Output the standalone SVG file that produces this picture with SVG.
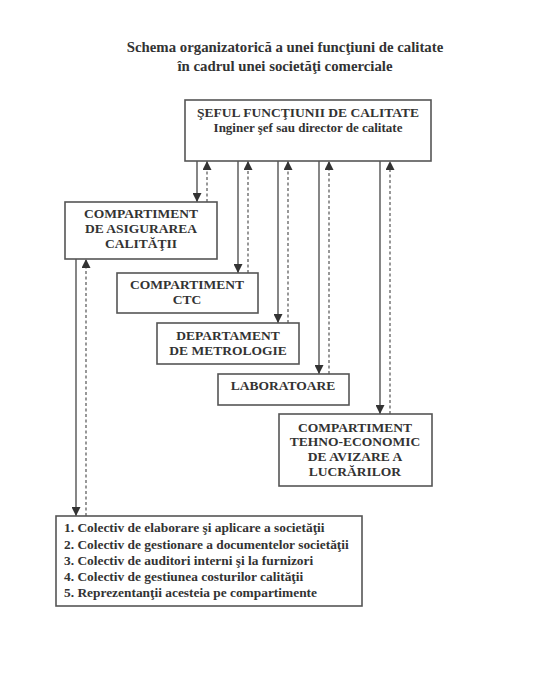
<svg xmlns="http://www.w3.org/2000/svg" width="537" height="677" viewBox="0 0 537 677">
<defs>
<marker id="ah" viewBox="0 0 10 10" refX="10" refY="5" markerWidth="9" markerHeight="9" markerUnits="userSpaceOnUse" orient="auto"><path d="M0,0 L10,5 L0,10 Z" fill="#333"/></marker>
</defs>
<style>
.box{fill:#fff;stroke:#555;stroke-width:1.6}
.t{font-family:"Liberation Serif",serif;font-weight:bold;fill:#333;text-anchor:middle}
.l{font-family:"Liberation Serif",serif;font-weight:bold;fill:#333;font-size:13.4px}
.s{stroke:#444;stroke-width:1.3;fill:none;marker-end:url(#ah)}
.d{stroke:#444;stroke-width:1.1;fill:none;stroke-dasharray:3,2.5;marker-end:url(#ah)}
</style>
<rect width="537" height="677" fill="#fff"/>
<g id="title">
<text class="t" x="285" y="52" font-size="14.8">Schema organizatorică a unei funcţiuni de calitate</text>
<text class="t" x="285" y="71" font-size="14.8">în cadrul unei societăţi comerciale</text>
</g>
<g id="connectors">
<line class="s" x1="197" y1="161" x2="197" y2="202"/>
<line class="d" x1="207" y1="202" x2="207" y2="161"/>
<line class="s" x1="238" y1="161" x2="238" y2="273"/>
<line class="d" x1="248" y1="273" x2="248" y2="161"/>
<line class="s" x1="278" y1="161" x2="278" y2="323"/>
<line class="d" x1="288" y1="323" x2="288" y2="161"/>
<line class="s" x1="319" y1="161" x2="319" y2="374"/>
<line class="d" x1="329" y1="374" x2="329" y2="161"/>
<line class="s" x1="380" y1="161" x2="380" y2="414"/>
<line class="d" x1="390" y1="414" x2="390" y2="161"/>
<line class="s" x1="76" y1="259" x2="76" y2="516"/>
<line class="d" x1="86" y1="516" x2="86" y2="259"/>
</g>
<g id="sef">
<rect class="box" x="185" y="100" width="246" height="61"/>
<text class="t" x="308" y="117" font-size="13.5">ŞEFUL FUNCŢIUNII DE CALITATE</text>
<text class="t" x="308" y="132" font-size="13">Inginer şef sau director de calitate</text>
</g>
<g id="asigurare">
<rect class="box" x="65" y="202" width="152" height="57"/>
<text class="t" x="141" y="218" font-size="13.5">COMPARTIMENT</text>
<text class="t" x="141" y="233" font-size="13.5">DE ASIGURAREA</text>
<text class="t" x="141" y="248" font-size="13.5">CALITĂŢII</text>
</g>
<g id="ctc">
<rect class="box" x="117" y="273" width="141" height="40"/>
<text class="t" x="187" y="289" font-size="13.5">COMPARTIMENT</text>
<text class="t" x="187" y="304" font-size="13.5">CTC</text>
</g>
<g id="metrologie">
<rect class="box" x="157" y="323" width="142" height="41"/>
<text class="t" x="228" y="340" font-size="13.5">DEPARTAMENT</text>
<text class="t" x="228" y="355" font-size="13.5">DE METROLOGIE</text>
</g>
<g id="laboratoare">
<rect class="box" x="218" y="374" width="131" height="31"/>
<text class="t" x="283" y="390" font-size="13.5">LABORATOARE</text>
</g>
<g id="tehno">
<rect class="box" x="279" y="414" width="153" height="72"/>
<text class="t" x="355" y="432" font-size="13.5">COMPARTIMENT</text>
<text class="t" x="355" y="446" font-size="13.5">TEHNO-ECONOMIC</text>
<text class="t" x="355" y="461" font-size="13.5">DE AVIZARE A</text>
<text class="t" x="355" y="476" font-size="13.5">LUCRĂRILOR</text>
</g>
<g id="colective">
<rect class="box" x="56" y="516" width="306" height="90"/>
<text class="l" x="64" y="532">1. Colectiv de elaborare şi aplicare a societăţii</text>
<text class="l" x="64" y="549">2. Colectiv de gestionare a documentelor societăţii</text>
<text class="l" x="64" y="565">3. Colectiv de auditori interni şi la furnizori</text>
<text class="l" x="64" y="581">4. Colectiv de gestiunea costurilor calităţii</text>
<text class="l" x="64" y="597">5. Reprezentanţii acesteia pe compartimente</text>
</g>
</svg>
